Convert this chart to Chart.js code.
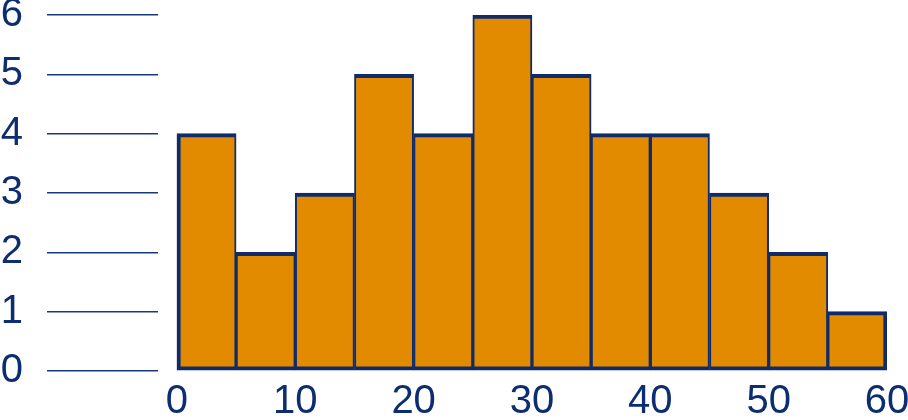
<!DOCTYPE html>
<html>
<head>
<meta charset="utf-8">
<script src="https://cdn.jsdelivr.net/npm/chart.js@4"></script>
<style>
  html, body { margin: 0; padding: 0; background: #ffffff; }
  #wrap { width: 908px; height: 420px; }
</style>
</head>
<body>
<div id="wrap"><canvas id="c" width="908" height="420"></canvas></div>
<script>
// Histogram data
const binEdges = [0, 5, 10, 15, 20, 25, 30, 35, 40, 45, 50, 55, 60];
const counts   = [4, 2, 3, 5, 4, 6, 5, 4, 4, 3, 2, 1];
const xTickValues = [0, 10, 20, 30, 40, 50, 60];
const yTickValues = [0, 1, 2, 3, 4, 5, 6];

const TEXT = '#0C2D70';
const LINE = '#173A7E';
const FILL = '#E28B00';
const EDGE = '#0F2B6A';
const FONT = "'Liberation Sans', Arial, sans-serif";

const points = counts.map((c, i) => ({ x: (binEdges[i] + binEdges[i + 1]) / 2, y: c }));
const lastIdx = counts.length - 1;

new Chart(document.getElementById('c'), {
  type: 'bar',
  data: {
    datasets: [{
      data: points,
      backgroundColor: FILL,
      borderColor: EDGE,
      borderSkipped: false,
      borderWidth: ctx => ({
        top: 4, bottom: 4,
        left: ctx.dataIndex === 0 ? 4 : 2,
        right: ctx.dataIndex === lastIdx ? 4 : 2
      }),
      barPercentage: 1,
      categoryPercentage: 1
    }]
  },
  options: {
    responsive: false,
    animation: false,
    devicePixelRatio: 1,
    layout: { padding: { top: 15, right: 21, left: 0, bottom: 0 } },
    plugins: { legend: { display: false }, tooltip: { enabled: false } },
    scales: {
      x: {
        type: 'linear',
        offset: false,
        min: -1.6,
        max: 60,
        grid: { display: false, drawTicks: false },
        border: { display: false },
        afterBuildTicks: s => { s.ticks = xTickValues.map(v => ({ value: v })); },
        afterFit: s => { s.height = 49; s.paddingLeft = 0; s.paddingRight = 0; },
        ticks: {
          color: TEXT,
          font: { family: FONT, size: 40 },
          padding: 7,
          maxRotation: 0,
          autoSkip: false
        }
      },
      y: {
        min: 0,
        max: 6,
        afterBuildTicks: s => { s.ticks = yTickValues.map(v => ({ value: v })); },
        afterFit: s => { s.width = 158; s.paddingTop = 0; s.paddingBottom = 0; },
        grid: {
          drawOnChartArea: false,
          drawTicks: true,
          tickLength: 111,
          color: LINE,
          lineWidth: 1.5
        },
        border: { display: false },
        ticks: {
          color: TEXT,
          font: { family: FONT, size: 40 },
          padding: 24
        }
      }
    }
  }
});
</script>
</body>
</html>
